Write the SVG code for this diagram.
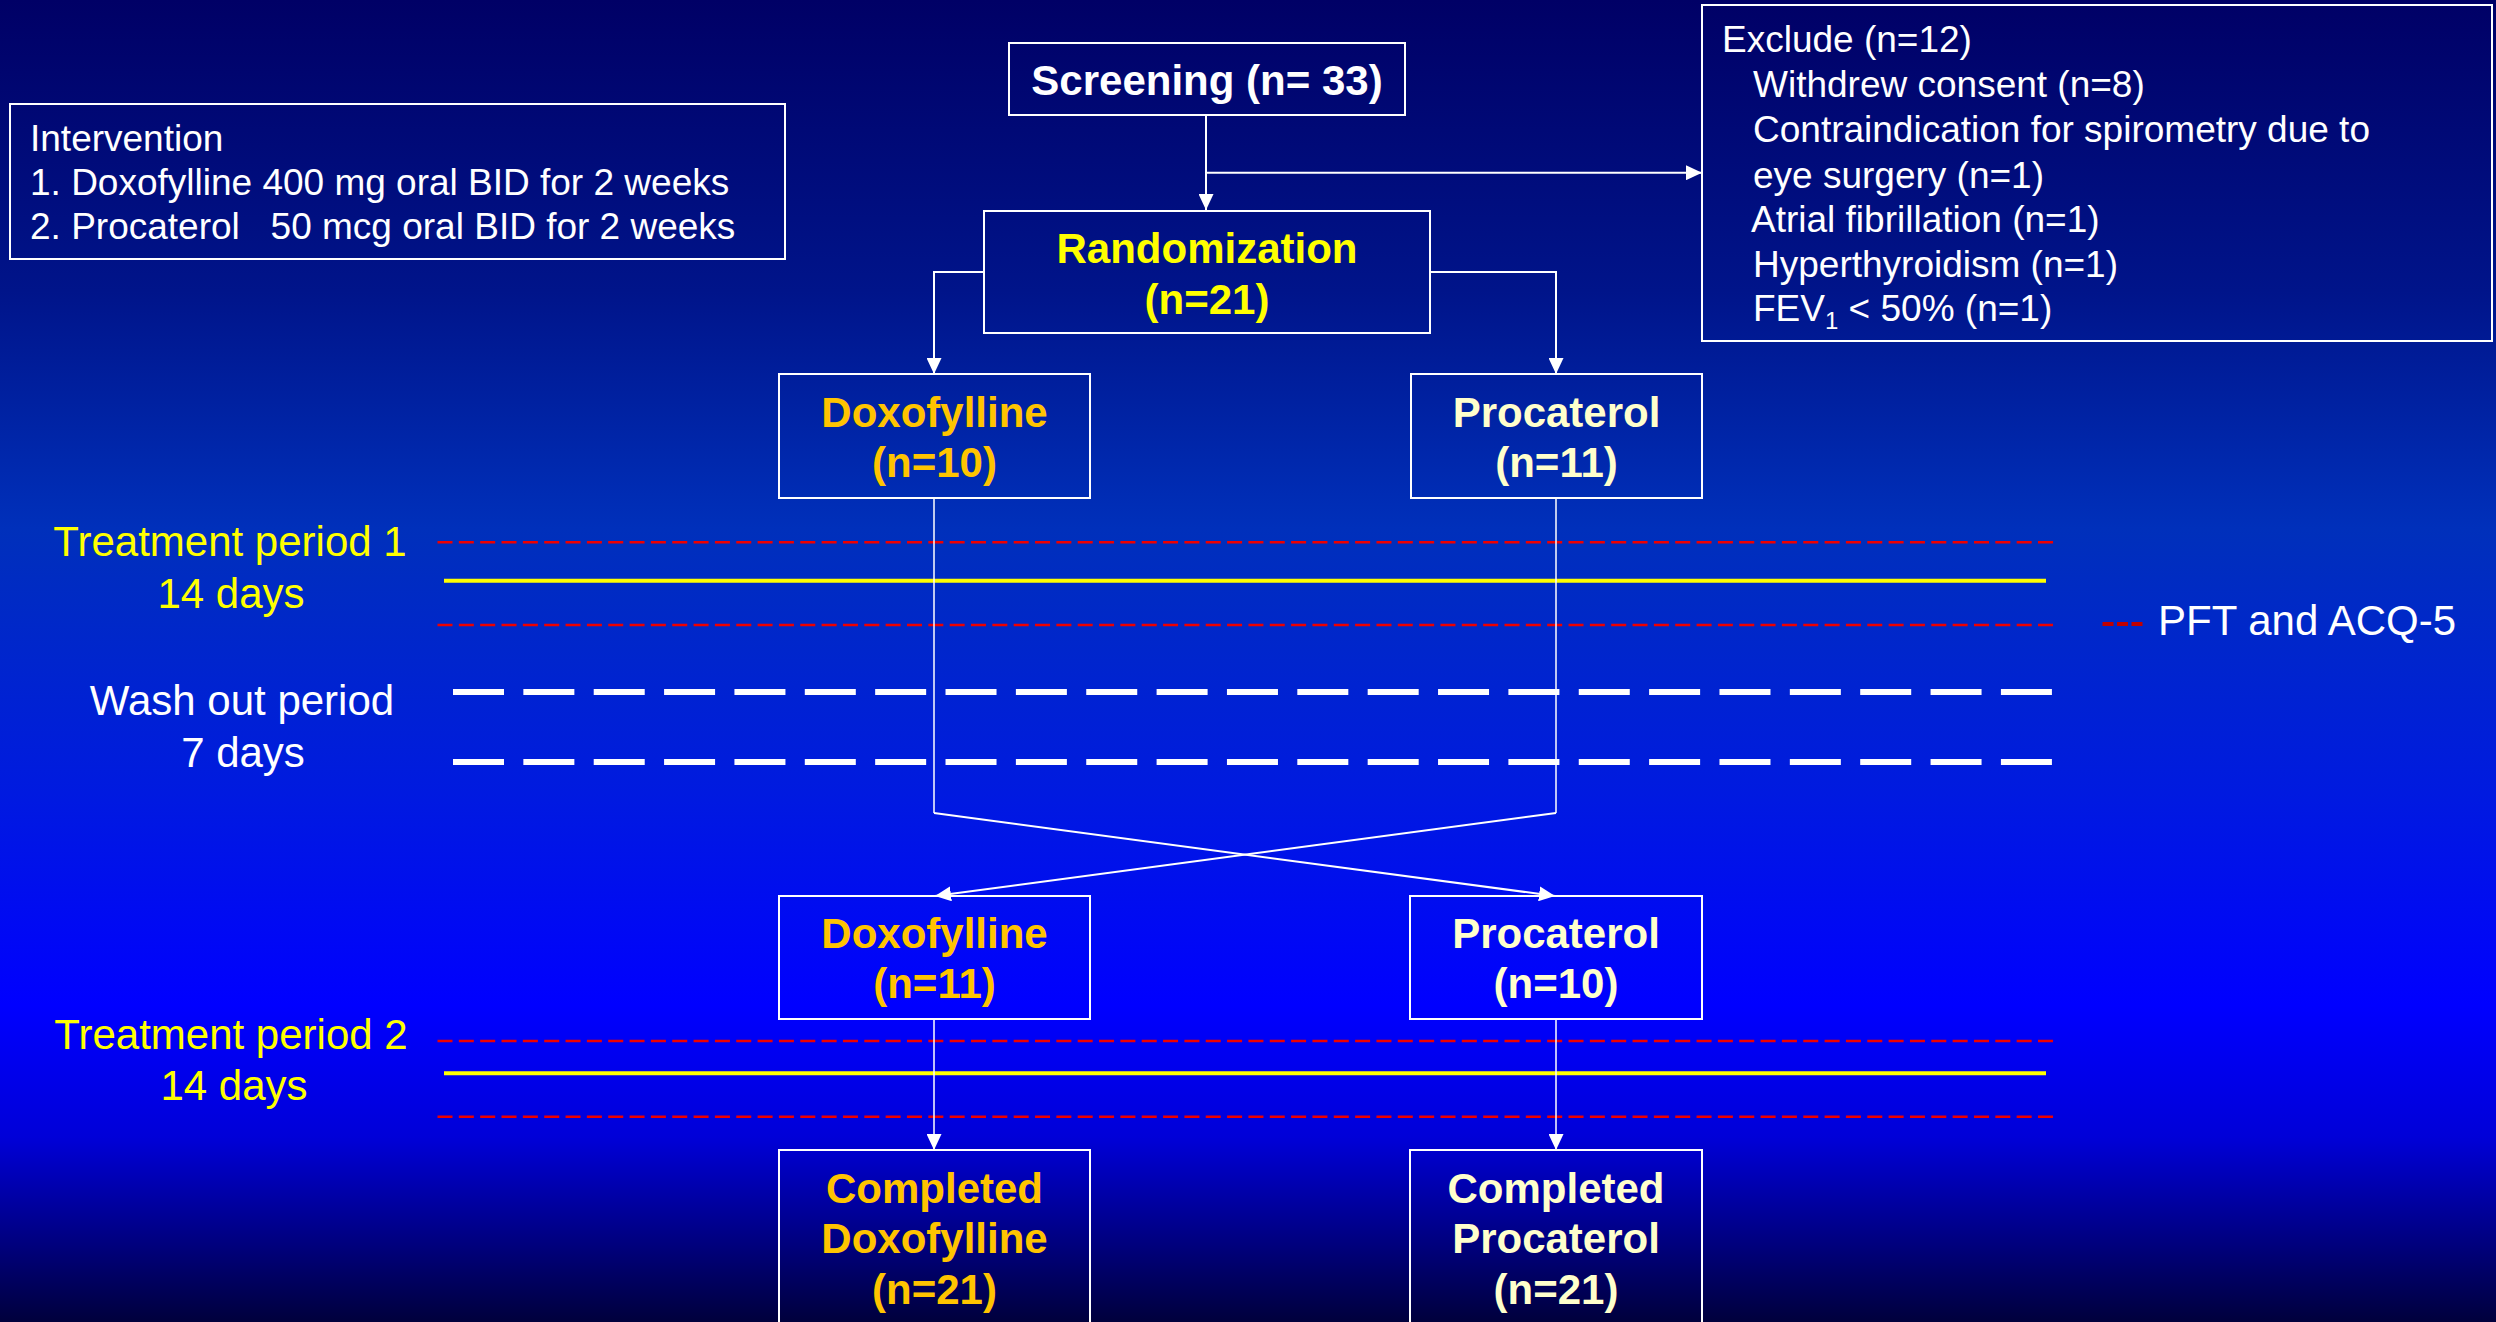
<svg xmlns="http://www.w3.org/2000/svg" width="2496" height="1322" viewBox="0 0 2496 1322">
<defs>
<linearGradient id="bg" x1="0" y1="0" x2="0" y2="1">
<stop offset="0" stop-color="#000066"/>
<stop offset="0.22" stop-color="#00148a"/>
<stop offset="0.40" stop-color="#0030bb"/>
<stop offset="0.60" stop-color="#001ae0"/>
<stop offset="0.76" stop-color="#0000ff"/>
<stop offset="0.86" stop-color="#0000d8"/>
<stop offset="1" stop-color="#00003c"/>
</linearGradient>
<marker id="ah" viewBox="0 0 16 15" markerWidth="16" markerHeight="15" refX="16" refY="7.5" orient="auto" markerUnits="userSpaceOnUse">
<path d="M0,0 L16,7.5 L0,15 z" fill="#ffffff"/>
</marker>
</defs>
<style>
.box{fill:none;stroke:#ffffff;stroke-width:2}
.t{font-family:"Liberation Sans",Arial,sans-serif;font-size:37px;fill:#ffffff}
.b{font-family:"Liberation Sans",Arial,sans-serif;font-size:42px;font-weight:bold;text-anchor:middle}
.p{font-family:"Liberation Sans",Arial,sans-serif;font-size:42px;text-anchor:middle}
.yel{fill:#ffff00}
.org{fill:#ffc400}
.crm{fill:#ffffcc}
.wht{fill:#ffffff}
.con{fill:none;stroke:#ffffff;stroke-width:2}
.thin{fill:none;stroke:#ffffff;stroke-width:1.5}
.red{stroke:#ee0000;stroke-width:2.5;stroke-dasharray:15 6.34;fill:none}
.ylw{stroke:#ffff00;stroke-width:4;fill:none}
.wd{stroke:#ffffff;stroke-width:6;stroke-dasharray:51 19.36;fill:none}
</style>
<rect x="0" y="0" width="2496" height="1322" fill="url(#bg)"/>

<g id="period-lines">
<line class="red" x1="437.5" y1="542.3" x2="2053" y2="542.3"/>
<line class="ylw" x1="444" y1="580.7" x2="2046" y2="580.7"/>
<line class="red" x1="437.5" y1="625" x2="2053" y2="625"/>
<line class="wd" x1="453" y1="692" x2="2052" y2="692"/>
<line class="wd" x1="453" y1="762" x2="2052" y2="762"/>
<line class="red" x1="437.5" y1="1041" x2="2053" y2="1041"/>
<line class="ylw" x1="444" y1="1073.3" x2="2046" y2="1073.3"/>
<line class="red" x1="437.5" y1="1116.7" x2="2053" y2="1116.7"/>
</g>

<g id="period-labels">
<text class="p yel" x="230" y="556">Treatment period 1</text>
<text class="p yel" x="231" y="607.7">14 days</text>
<text class="p wht" x="242" y="715">Wash out period</text>
<text class="p wht" x="243" y="766.7">7 days</text>
<text class="p yel" x="231" y="1049">Treatment period 2</text>
<text class="p yel" x="234" y="1100">14 days</text>
</g>

<g id="legend">
<line x1="2102.5" y1="624" x2="2142.6" y2="624" stroke="#c00000" stroke-width="4" stroke-dasharray="11 3.5"/>
<text class="t" x="2158" y="635" style="font-size:42px">PFT and ACQ-5</text>
</g>

<g id="connectors">
<path class="con" d="M1206,115 V210" marker-end="url(#ah)"/>
<path class="con" d="M1206,172.7 H1702" marker-end="url(#ah)"/>
<path class="con" d="M984,272 H934 V374" marker-end="url(#ah)"/>
<path class="con" d="M1430,272 H1556 V374" marker-end="url(#ah)"/>
<path class="thin" d="M934,498 V813"/>
<path class="con" d="M934,813 L1555,896" marker-end="url(#ah)"/>
<path class="thin" d="M1556,498 V813"/>
<path class="con" d="M1556,813 L935,896" marker-end="url(#ah)"/>
<path class="thin" d="M934,1019 V1150" marker-end="url(#ah)"/>
<path class="thin" d="M1556,1019 V1150" marker-end="url(#ah)"/>
</g>

<g id="intervention">
<rect class="box" x="10" y="104" width="775" height="155"/>
<text class="t" x="30" y="151">Intervention</text>
<text class="t" x="30" y="195">1. Doxofylline 400 mg oral BID for 2 weeks</text>
<text class="t" x="30" y="239" xml:space="preserve">2. Procaterol   50 mcg oral BID for 2 weeks</text>
</g>

<g id="screening">
<rect class="box" x="1009" y="43" width="396" height="72"/>
<text class="b wht" x="1207" y="95">Screening (n= 33)</text>
</g>

<g id="exclude">
<rect class="box" x="1702" y="5" width="790" height="336"/>
<text class="t" x="1722" y="52">Exclude (n=12)</text>
<text class="t" x="1753" y="97">Withdrew consent (n=8)</text>
<text class="t" x="1753" y="142">Contraindication for spirometry due to</text>
<text class="t" x="1753" y="188">eye surgery (n=1)</text>
<text class="t" x="1751" y="231.5">Atrial fibrillation (n=1)</text>
<text class="t" x="1753" y="276.5">Hyperthyroidism (n=1)</text>
<text class="t" x="1753" y="321">FEV<tspan font-size="24" dy="8">1</tspan><tspan dy="-8"> &lt; 50% (n=1)</tspan></text>
</g>

<g id="randomization">
<rect class="box" x="984" y="211" width="446" height="122"/>
<text class="b yel" x="1207" y="263">Randomization</text>
<text class="b yel" x="1207" y="314">(n=21)</text>
</g>

<g id="doxofylline-1">
<rect class="box" x="779" y="374" width="311" height="124"/>
<text class="b org" x="934.5" y="427">Doxofylline</text>
<text class="b org" x="934.5" y="477">(n=10)</text>
</g>

<g id="procaterol-1">
<rect class="box" x="1411" y="374" width="291" height="124"/>
<text class="b crm" x="1556.5" y="427">Procaterol</text>
<text class="b crm" x="1556.5" y="477">(n=11)</text>
</g>

<g id="doxofylline-2">
<rect class="box" x="779" y="896" width="311" height="123"/>
<text class="b org" x="934.5" y="948">Doxofylline</text>
<text class="b org" x="934.5" y="998">(n=11)</text>
</g>

<g id="procaterol-2">
<rect class="box" x="1410" y="896" width="292" height="123"/>
<text class="b crm" x="1556" y="948">Procaterol</text>
<text class="b crm" x="1556" y="998">(n=10)</text>
</g>

<g id="completed-doxofylline">
<rect class="box" x="779" y="1150" width="311" height="190"/>
<text class="b org" x="934.5" y="1203">Completed</text>
<text class="b org" x="934.5" y="1253">Doxofylline</text>
<text class="b org" x="934.5" y="1304">(n=21)</text>
</g>

<g id="completed-procaterol">
<rect class="box" x="1410" y="1150" width="292" height="190"/>
<text class="b crm" x="1556" y="1203">Completed</text>
<text class="b crm" x="1556" y="1253">Procaterol</text>
<text class="b crm" x="1556" y="1304">(n=21)</text>
</g>
</svg>
